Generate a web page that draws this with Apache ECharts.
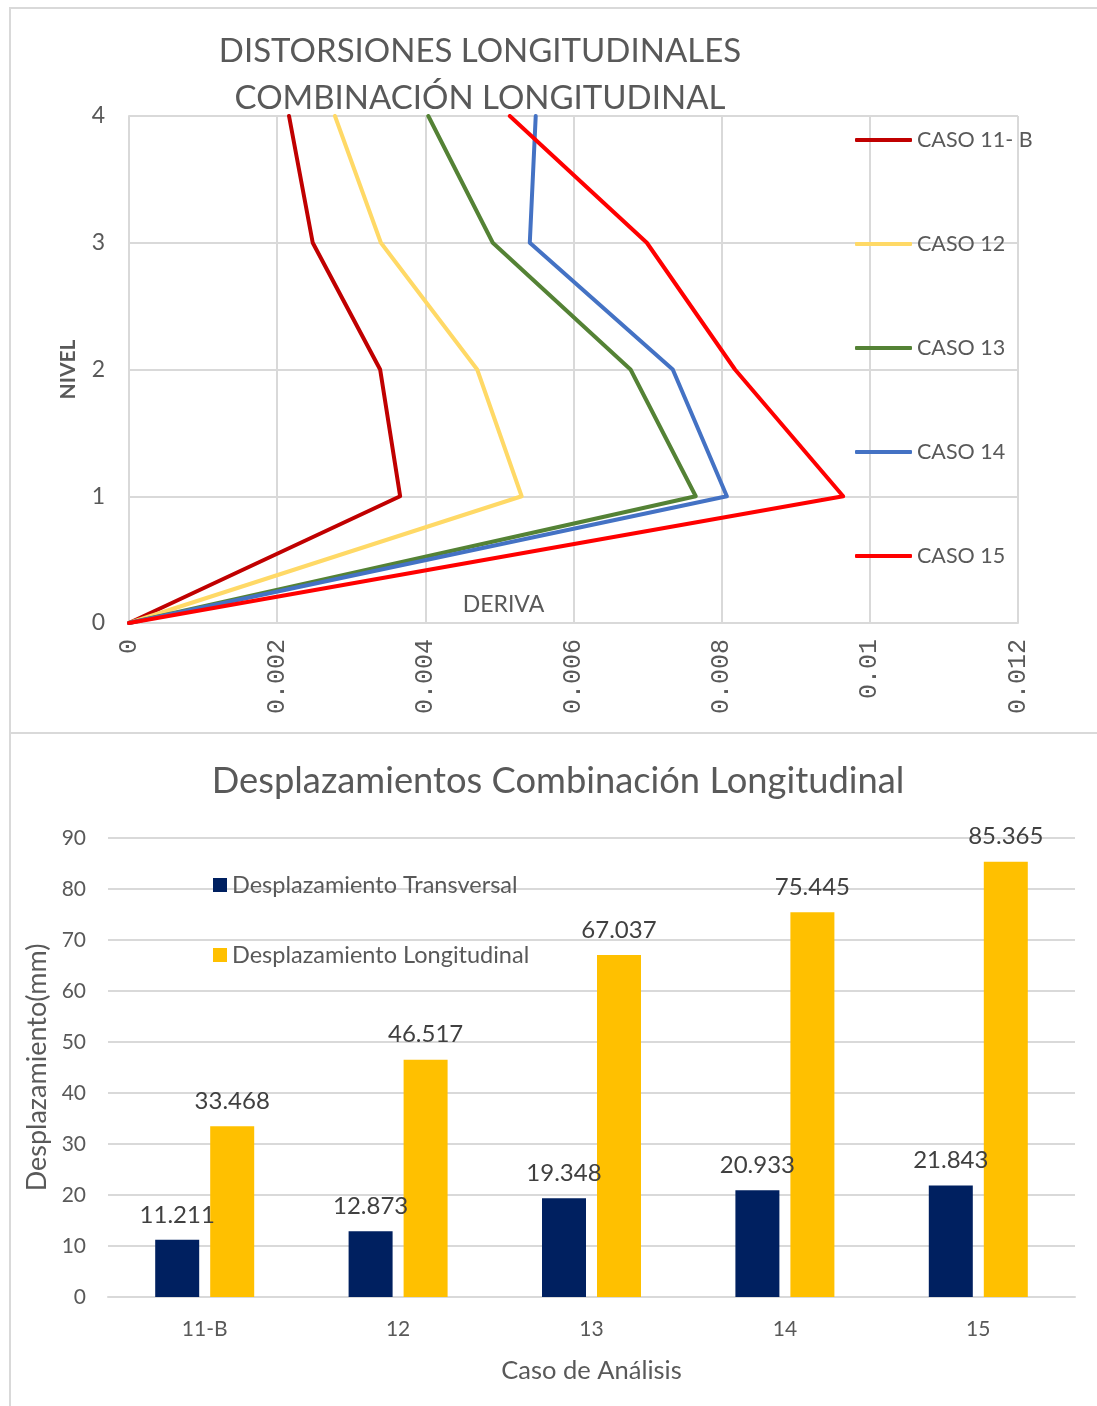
<!DOCTYPE html>
<html>
<head>
<meta charset="utf-8">
<script src="https://cdn.jsdelivr.net/npm/echarts@6/dist/echarts.min.js"></script>
<style>
  html, body { margin: 0; padding: 0; background: #fff; }
  #wrap { position: relative; width: 1097px; height: 1406px; }
  .frame { position: absolute; left: 9px; right: 0; border-left: 2px solid #D9D9D9; border-top: 2px solid #D9D9D9; box-sizing: border-box; }
  #chart { position: absolute; left: 0; top: 0; width: 1097px; height: 1406px; }
</style>
</head>
<body>
<div id="wrap">
  <div class="frame" style="top:7px;height:726px;"></div>
  <div class="frame" style="top:732px;height:674px;"></div>
  <div id="chart"></div>
</div>
<script>
// Storey drift per level (NIVEL 0..4) for each load case
const niveles = [0, 1, 2, 3, 4];
const caso11B = [0, 0.00366, 0.00339, 0.00248, 0.00216];
const caso12  = [0, 0.00530, 0.00470, 0.00340, 0.00278];
const caso13  = [0, 0.00765, 0.00677, 0.00491, 0.00404];
const caso14  = [0, 0.00807, 0.00734, 0.00541, 0.00549];
const caso15  = [0, 0.00964, 0.00818, 0.00699, 0.00514];

const casoNames  = ['CASO 11- B', 'CASO 12', 'CASO 13', 'CASO 14', 'CASO 15'];
const casoColors = ['#C00000', '#FFD966', '#548235', '#4472C4', '#FF0000'];
const casoData   = [caso11B, caso12, caso13, caso14, caso15];

// Displacements per analysis case (mm)
const casos = ['11-B', '12', '13', '14', '15'];
const despTransversal  = [11.211, 12.873, 19.348, 20.933, 21.843];
const despLongitudinal = [33.468, 46.517, 67.037, 75.445, 85.365];

const gray = '#595959';
const gridGray = '#D9D9D9';
const FONT = 'Lato';

const lineSeries = casoNames.map((name, i) => ({
  name: name,
  type: 'line',
  xAxisIndex: 0,
  yAxisIndex: 0,
  symbol: 'none',
  lineStyle: { width: 4, color: casoColors[i], cap: 'round', join: 'round' },
  itemStyle: { color: casoColors[i] },
  data: casoData[i].map((v, k) => [v, niveles[k]])
}));

const barLabel = {
  show: true, position: 'top', distance: 13,
  fontFamily: FONT, fontSize: 24, color: '#404040',
  formatter: p => p.value.toFixed(3)
};

const option = {
  animation: false,
  textStyle: { fontFamily: FONT },
  title: [
    {
      text: 'DISTORSIONES LONGITUDINALES\nCOMBINACIÓN LONGITUDINAL',
      left: 475, top: 23, textAlign: 'center',
      textStyle: { fontFamily: FONT, fontSize: 33, fontWeight: 'normal', color: gray, lineHeight: 47 }
    },
    {
      text: 'Desplazamientos Combinación Longitudinal',
      left: 553, top: 758, textAlign: 'center',
      textStyle: { fontFamily: FONT, fontSize: 36.3, fontWeight: 'normal', color: gray }
    }
  ],
  legend: [
    {
      data: casoNames,
      orient: 'vertical',
      left: 850, top: 120,
      icon: 'roundRect',
      itemWidth: 57, itemHeight: 4, itemGap: 74,
      textStyle: { fontFamily: FONT, fontSize: 21.5, color: gray, lineHeight: 30, padding: [0, 0, 0, 0] }
    },
    {
      data: ['Desplazamiento Transversal', 'Desplazamiento Longitudinal'],
      orient: 'vertical',
      left: 208, top: 867,
      icon: 'rect',
      itemWidth: 14, itemHeight: 14, itemGap: 44,
      textStyle: { fontFamily: FONT, fontSize: 23.5, color: gray, lineHeight: 26 }
    }
  ],
  grid: [
    { left: 129, top: 116, width: 889, height: 507, containLabel: false },
    { left: 108, top: 838, width: 967, height: 459, containLabel: false }
  ],
  xAxis: [
    {
      gridIndex: 0, type: 'value', min: 0, max: 0.012, interval: 0.002,
      name: 'DERIVA', nameLocation: 'middle', nameGap: -30,
      nameTextStyle: { fontFamily: FONT, fontSize: 23, color: gray, padding: [0, 140, 0, 0] },
      axisLine: { show: true, lineStyle: { color: gridGray, width: 2 } },
      axisTick: { show: false },
      splitLine: { show: true, lineStyle: { color: gridGray, width: 2 } },
      axisLabel: {
        rotate: 90, margin: 16,
        fontFamily: 'Liberation Mono', fontSize: 25, color: gray,
        formatter: v => String(+v.toFixed(3))
      }
    },
    {
      gridIndex: 1, type: 'category', data: casos,
      name: 'Caso de Análisis', nameLocation: 'middle', nameGap: 61,
      nameTextStyle: { fontFamily: FONT, fontSize: 25.5, color: gray },
      axisLine: { show: true, lineStyle: { color: gridGray, width: 2 } },
      axisTick: { show: false },
      axisLabel: { margin: 22, fontFamily: FONT, fontSize: 21, color: gray }
    }
  ],
  yAxis: [
    {
      gridIndex: 0, type: 'value', min: 0, max: 4, interval: 1,
      name: 'NIVEL', nameLocation: 'middle', nameGap: 50,
      nameTextStyle: { fontFamily: FONT, fontSize: 21, fontWeight: 'bold', color: gray },
      axisLine: { show: true, lineStyle: { color: gridGray, width: 2 } },
      axisTick: { show: false },
      splitLine: { show: true, lineStyle: { color: gridGray, width: 2 } },
      axisLabel: { margin: 24, fontFamily: FONT, fontSize: 23, color: gray }
    },
    {
      gridIndex: 1, type: 'value', min: 0, max: 90, interval: 10,
      name: 'Desplazamiento(mm)', nameLocation: 'middle', nameGap: 57,
      nameTextStyle: { fontFamily: FONT, fontSize: 27, color: gray },
      axisLine: { show: false },
      axisTick: { show: false },
      splitLine: { show: true, lineStyle: { color: gridGray, width: 2 } },
      axisLabel: { margin: 22, fontFamily: FONT, fontSize: 21, color: gray }
    }
  ],
  series: lineSeries.concat([
    {
      name: 'Desplazamiento Transversal', type: 'bar',
      xAxisIndex: 1, yAxisIndex: 1,
      barWidth: 44, barGap: '25%',
      itemStyle: { color: '#002060' },
      label: barLabel,
      data: despTransversal
    },
    {
      name: 'Desplazamiento Longitudinal', type: 'bar',
      xAxisIndex: 1, yAxisIndex: 1,
      barWidth: 44, barGap: '25%',
      itemStyle: { color: '#FFC000' },
      label: barLabel,
      data: despLongitudinal
    }
  ])
};

const chart = echarts.init(document.getElementById('chart'), null, { renderer: 'canvas' });
chart.setOption(option);
</script>
</body>
</html>
